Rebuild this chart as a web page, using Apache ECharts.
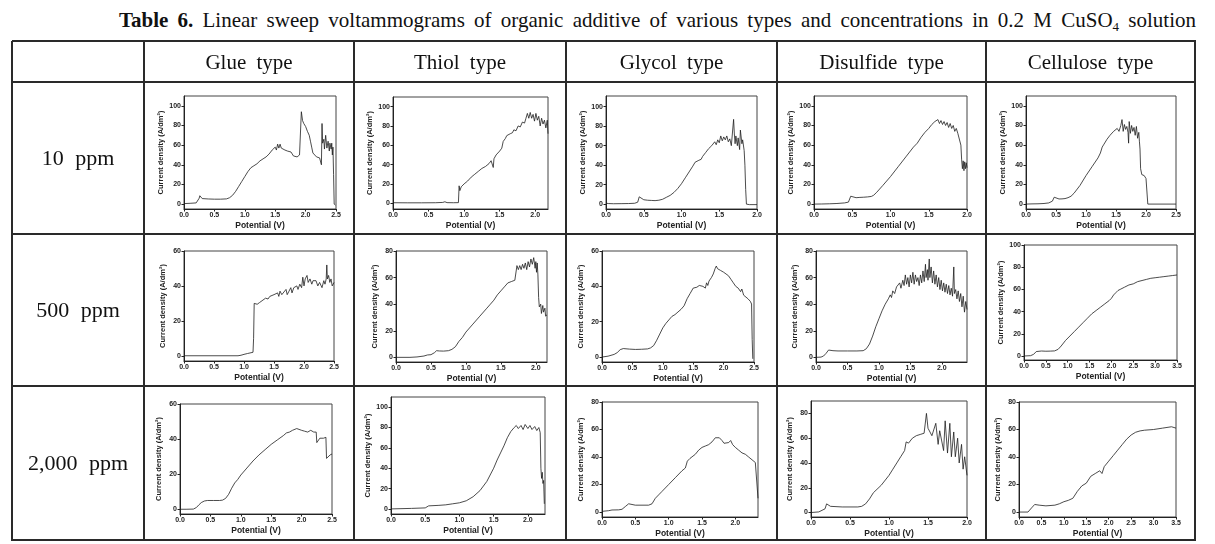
<!DOCTYPE html>
<html><head><meta charset="utf-8">
<script src="https://cdn.jsdelivr.net/npm/echarts@6/dist/echarts.min.js"></script>
<style>
html,body{margin:0;padding:0;background:#fff;}
#wrap{position:relative;width:1215px;height:544px;overflow:hidden;font-family:"Liberation Serif","Times New Roman",serif;color:#111;}
#chart{position:absolute;left:0;top:0;width:1215px;height:544px;}
.ln{position:absolute;background:#2a2a2a;}
.txt{position:absolute;white-space:nowrap;text-align:center;}
#title{position:absolute;right:19px;top:8px;font-size:21px;white-space:nowrap;word-spacing:4px;}
#title sub{font-size:13px;vertical-align:-4px;line-height:0;}
</style></head><body>
<div id="wrap">
<div id="title"><b>Table 6.</b> Linear sweep voltammograms of organic additive of various types and concentrations in 0.2 M CuSO<sub>4</sub> solution</div>
<div id="chart"></div>
</div>
<script>
// ---------- text ----------
const columnHeaders = ["Glue type", "Thiol type", "Glycol type", "Disulfide type", "Cellulose type"];
const rowLabels = ["10 ppm", "500 ppm", "2,000 ppm"];
const xName = "Potential (V)";
const yName = "Current density (A/dm\u00b2)";

// ---------- tick labels ----------
const xTicks25 = [0, 0.5, 1.0, 1.5, 2.0, 2.5];
const xTicks20 = [0, 0.5, 1.0, 1.5, 2.0];
const xTicks35 = [0, 0.5, 1.0, 1.5, 2.0, 2.5, 3.0, 3.5];
const yTicks100 = [0, 20, 40, 60, 80, 100];
const yTicks80 = [0, 20, 40, 60, 80];
const yTicks60 = [0, 20, 40, 60];

// ---------- series values [potential V, current density A/dm2] ----------
// row 1 : 10 ppm
const glue10 = [[0,0.5],[0.1,0.8],[0.2,1.2],[0.23,2],[0.25,6],[0.26,8.5],[0.28,6.5],[0.3,5.6],[0.4,5.2],[0.5,5],[0.6,5],[0.7,5.3],[0.75,6.5],[0.8,9],[0.85,13],[0.9,18],[0.95,23],[1.0,28],[1.05,33],[1.1,37],[1.15,39],[1.2,41],[1.25,44],[1.3,46],[1.35,48],[1.38,47],[1.4,51],[1.43,53],[1.45,55],[1.47,53],[1.5,58],[1.52,55],[1.54,61],[1.56,57],[1.58,61],[1.6,57],[1.63,59],[1.66,55],[1.7,54],[1.73,52],[1.76,53],[1.8,49],[1.83,51],[1.86,48],[1.9,50],[1.92,48],[1.93,94],[1.95,85],[1.97,82],[2.0,79],[2.03,74],[2.06,70],[2.08,64],[2.1,58],[2.12,52],[2.15,50],[2.18,48],[2.2,49],[2.23,47],[2.25,45],[2.26,40],[2.27,82],[2.28,62],[2.3,66],[2.31,56],[2.33,70],[2.35,57],[2.37,64],[2.39,54],[2.4,62],[2.42,56],[2.43,62],[2.44,50],[2.45,58],[2.46,30],[2.47,0],[2.49,-1]];
const thiol10 = [[0,0.5],[0.2,0.4],[0.4,0.4],[0.6,0.5],[0.7,0.8],[0.73,1.5],[0.76,0.6],[0.85,0.5],[0.92,0.6],[0.93,18],[0.94,13],[0.96,17],[1.0,20],[1.05,23],[1.1,27],[1.15,30],[1.2,33],[1.25,36],[1.3,38],[1.35,41],[1.38,44],[1.4,46],[1.41,37],[1.42,46],[1.45,50],[1.5,54],[1.53,57],[1.55,64],[1.58,67],[1.6,70],[1.65,72],[1.68,73],[1.7,76],[1.73,75],[1.76,80],[1.79,79],[1.82,84],[1.85,83],[1.87,88],[1.89,93],[1.91,88],[1.93,94],[1.95,88],[1.97,92],[1.99,85],[2.01,93],[2.03,86],[2.05,90],[2.07,80],[2.09,88],[2.11,82],[2.13,86],[2.15,78],[2.17,86],[2.18,72]];
const glycol10 = [[0,1],[0.03,0.6],[0.1,0.4],[0.2,0.5],[0.3,0.6],[0.38,0.9],[0.42,2],[0.44,7.5],[0.46,6],[0.5,4.5],[0.55,4],[0.6,3.8],[0.65,3.6],[0.7,4],[0.75,5],[0.8,7],[0.85,9],[0.9,12],[0.95,16],[1.0,21],[1.05,27],[1.1,33],[1.15,39],[1.18,43],[1.2,42],[1.23,45],[1.26,46],[1.28,49],[1.3,50],[1.32,53],[1.34,51],[1.36,57],[1.38,55],[1.4,60],[1.42,58],[1.44,64],[1.46,61],[1.48,66],[1.5,63],[1.52,70],[1.54,65],[1.56,69],[1.58,66],[1.6,70],[1.62,64],[1.64,67],[1.66,60],[1.68,58],[1.69,87],[1.7,72],[1.71,62],[1.72,70],[1.74,60],[1.75,68],[1.77,56],[1.78,76],[1.8,62],[1.81,66],[1.83,55],[1.84,40],[1.85,15],[1.86,0],[1.9,-0.5],[2.0,-0.5]];
const disulfide10 = [[0,0],[0.1,0.1],[0.2,0.3],[0.3,0.6],[0.4,1.2],[0.45,2],[0.47,3.5],[0.48,8],[0.5,7],[0.55,6.5],[0.6,6.8],[0.65,7],[0.7,7.3],[0.75,7.8],[0.78,9],[0.82,12],[0.9,19],[1.0,28],[1.1,38],[1.2,48],[1.3,58],[1.35,62],[1.4,68],[1.45,73],[1.5,77],[1.52,79],[1.54,81],[1.56,80],[1.58,84],[1.6,82],[1.62,86],[1.64,82],[1.66,85],[1.68,81],[1.7,84],[1.72,80],[1.74,83],[1.76,78],[1.78,82],[1.8,77],[1.82,80],[1.84,74],[1.86,77],[1.88,72],[1.9,70],[1.92,60],[1.93,45],[1.94,36],[1.95,44],[1.96,34],[1.97,43],[1.98,36],[1.99,42],[2.0,37]];
const cellulose10 = [[0,0],[0.1,0.2],[0.2,0.3],[0.3,0.6],[0.38,1.2],[0.44,3],[0.47,7],[0.5,5.5],[0.55,5.2],[0.6,5.3],[0.65,5.6],[0.7,6.5],[0.75,8],[0.8,11],[0.9,19],[1.0,29],[1.1,38],[1.2,47],[1.24,52],[1.26,54],[1.27,58],[1.3,61],[1.35,66],[1.4,70],[1.43,69],[1.46,74],[1.49,72],[1.52,77],[1.55,74],[1.58,80],[1.6,86],[1.62,74],[1.64,81],[1.66,76],[1.68,79],[1.7,73],[1.71,62],[1.72,84],[1.74,72],[1.76,80],[1.78,74],[1.8,78],[1.82,70],[1.84,79],[1.86,67],[1.88,73],[1.89,64],[1.9,56],[1.91,36],[1.93,30],[1.95,28],[1.97,29],[2.0,26],[2.02,24],[2.03,0],[2.1,0],[2.5,0]];
// row 2 : 500 ppm
const glue500 = [[0,0],[0.5,0],[0.9,0],[0.95,0.3],[1.0,0.8],[1.03,1.5],[1.06,1.3],[1.1,1.6],[1.15,2],[1.16,10],[1.17,30],[1.19,29],[1.22,29.5],[1.26,30.5],[1.3,31.5],[1.33,32],[1.36,33],[1.4,32.5],[1.43,34],[1.46,33.5],[1.5,35],[1.53,34],[1.56,36],[1.58,34],[1.6,37],[1.63,35],[1.66,36],[1.7,38],[1.72,35],[1.75,37],[1.78,39],[1.8,36],[1.83,39],[1.86,38],[1.88,40],[1.9,38],[1.93,41],[1.96,39],[1.98,45],[2.0,40],[2.02,44],[2.05,46],[2.07,42],[2.1,44],[2.13,41],[2.15,43],[2.18,42],[2.2,43],[2.23,40],[2.26,42],[2.3,39],[2.33,43],[2.35,41],[2.37,44],[2.38,52],[2.39,44],[2.41,46],[2.43,42],[2.45,44],[2.47,40],[2.5,42]];
const thiol500 = [[0,0],[0.2,0],[0.3,0.3],[0.4,1],[0.45,1.8],[0.5,2],[0.55,3.5],[0.58,5],[0.62,4.8],[0.68,4.7],[0.75,5],[0.8,6],[0.85,8],[0.9,12],[0.95,15],[1.0,19],[1.1,25],[1.2,31],[1.3,37],[1.35,40],[1.4,43],[1.45,47],[1.5,50],[1.55,53],[1.6,56],[1.65,57],[1.7,58],[1.72,58],[1.73,69],[1.75,66],[1.77,69],[1.79,66],[1.81,70],[1.83,67],[1.85,71],[1.87,66],[1.89,72],[1.91,68],[1.93,74],[1.95,70],[1.97,75],[1.99,67],[2.0,72],[2.01,64],[2.02,71],[2.03,62],[2.04,45],[2.05,38],[2.07,40],[2.08,33],[2.1,39],[2.11,34],[2.13,37],[2.14,31],[2.16,32]];
const glycol500 = [[0,0],[0.1,0.5],[0.2,1.5],[0.25,2.5],[0.3,4.2],[0.35,4.8],[0.45,4.5],[0.55,4.3],[0.65,4.4],[0.75,4.6],[0.8,5.2],[0.85,6.5],[0.9,9.5],[0.95,13],[1.0,16.5],[1.05,19],[1.1,21],[1.15,23],[1.2,24],[1.25,25.5],[1.3,27],[1.35,29],[1.4,33],[1.45,36],[1.5,39],[1.53,40],[1.56,39.5],[1.6,40.5],[1.63,39.5],[1.66,40],[1.7,39],[1.72,42],[1.74,40.5],[1.76,43],[1.8,45],[1.83,47],[1.86,50],[1.88,51.5],[1.9,50],[1.92,51],[1.95,49],[1.98,48],[2.0,48],[2.04,47],[2.08,46],[2.12,44],[2.16,42],[2.2,40],[2.24,39],[2.28,37],[2.3,38.5],[2.33,35],[2.36,36],[2.4,33],[2.44,31.5],[2.46,30],[2.47,10],[2.48,-1]];
const disulfide500 = [[0,0],[0.08,0.2],[0.12,1],[0.16,3],[0.2,5.5],[0.23,6],[0.27,5],[0.35,4.8],[0.5,4.8],[0.65,4.8],[0.75,5],[0.8,6.5],[0.85,10],[0.9,16],[0.95,23],[1.0,29],[1.05,35],[1.1,40],[1.15,44],[1.18,47],[1.2,45],[1.22,50],[1.25,48],[1.28,53],[1.3,52],[1.33,56],[1.35,52],[1.38,58],[1.4,54],[1.42,62],[1.44,55],[1.46,60],[1.48,53],[1.5,62],[1.52,56],[1.54,64],[1.56,55],[1.58,62],[1.6,57],[1.62,60],[1.64,54],[1.66,62],[1.68,56],[1.7,65],[1.72,57],[1.74,70],[1.75,60],[1.77,66],[1.78,58],[1.8,74],[1.81,60],[1.83,68],[1.85,56],[1.87,65],[1.89,55],[1.91,62],[1.93,53],[1.95,60],[1.97,51],[1.99,58],[2.01,50],[2.03,56],[2.05,49],[2.07,55],[2.09,48],[2.11,54],[2.13,47],[2.15,52],[2.17,46],[2.19,68],[2.2,48],[2.22,51],[2.24,44],[2.26,50],[2.28,42],[2.3,48],[2.32,38],[2.34,46],[2.36,34],[2.38,42],[2.4,36]];
const cellulose500 = [[0,0],[0.15,0.3],[0.22,1.5],[0.28,4],[0.32,5],[0.4,4.5],[0.5,4.3],[0.6,4.4],[0.7,4.6],[0.78,6],[0.85,9],[0.95,14],[1.05,18],[1.15,22],[1.25,26],[1.35,30],[1.45,34],[1.55,38],[1.65,41],[1.75,44],[1.85,47],[1.95,50],[2.0,52],[2.05,55],[2.1,57],[2.15,59],[2.2,60],[2.3,62],[2.4,64],[2.5,65],[2.6,67],[2.7,68],[2.8,69],[2.9,70],[3.0,70.5],[3.1,71],[3.2,71.5],[3.3,72],[3.4,72.5],[3.5,73]];
// row 3 : 2,000 ppm
const glue2000 = [[0,0],[0.1,0],[0.22,0.1],[0.27,1],[0.31,2.5],[0.35,3.8],[0.4,4.7],[0.45,5],[0.55,5],[0.65,5],[0.7,5.2],[0.75,6.2],[0.8,8.5],[0.85,12],[0.9,15],[0.95,17],[1.0,19.5],[1.1,23.5],[1.2,27.5],[1.3,31],[1.4,34],[1.5,37],[1.6,39.5],[1.7,42],[1.75,43.5],[1.8,44],[1.85,45],[1.88,44.5],[1.92,46],[1.95,45.5],[2.0,45],[2.05,44.5],[2.1,44],[2.15,45],[2.2,44],[2.24,44],[2.25,38],[2.28,39],[2.3,40.5],[2.33,39.5],[2.36,40.5],[2.4,41],[2.41,29],[2.44,30],[2.47,31],[2.5,31.5]];
const thiol2000 = [[0,0],[0.3,0.5],[0.5,1],[0.55,3],[0.7,3.5],[0.8,4],[0.9,5],[1.0,6],[1.1,8],[1.2,12],[1.3,18],[1.4,27],[1.5,40],[1.55,48],[1.6,55],[1.65,62],[1.7,70],[1.75,76],[1.8,80],[1.83,82],[1.86,79],[1.9,82],[1.93,78],[1.96,83],[2.0,79],[2.03,82],[2.06,78],[2.1,81],[2.13,77],[2.16,80],[2.18,75],[2.19,40],[2.2,30],[2.21,36],[2.22,25],[2.23,28],[2.24,5]];
const glycol2000 = [[0,0.5],[0.1,1],[0.15,1.5],[0.25,1.6],[0.3,2],[0.35,4],[0.4,6],[0.45,5.5],[0.5,5],[0.6,5],[0.7,5],[0.75,6],[0.8,10],[0.85,12.5],[0.9,15],[1.0,20],[1.1,25],[1.2,30],[1.25,32],[1.28,37],[1.32,39],[1.4,42],[1.45,45],[1.5,47],[1.55,48],[1.6,49],[1.65,51],[1.7,54],[1.73,55],[1.76,54],[1.8,52],[1.83,50],[1.86,51],[1.9,50.5],[1.93,52],[1.96,49],[2.0,47],[2.05,45],[2.1,43],[2.15,42],[2.2,40],[2.25,38],[2.3,36],[2.33,35],[2.34,10]];
const disulfide2000 = [[0,0],[0.1,0.5],[0.18,3],[0.2,7],[0.25,5],[0.4,4.5],[0.6,4.5],[0.65,5],[0.7,7],[0.75,11],[0.8,16],[0.9,22],[1.0,30],[1.05,35],[1.1,40],[1.15,45],[1.2,50],[1.22,57],[1.25,56],[1.3,60],[1.35,62],[1.4,63],[1.45,64],[1.48,80],[1.5,68],[1.55,62],[1.6,72],[1.63,55],[1.65,66],[1.7,50],[1.72,74],[1.75,48],[1.78,72],[1.8,45],[1.83,65],[1.85,45],[1.88,60],[1.9,40],[1.93,55],[1.95,35],[1.97,45],[2.0,30]];
const cellulose2000 = [[0,0],[0.2,0],[0.28,3],[0.35,5.5],[0.45,5],[0.6,4.5],[0.8,5],[0.9,6],[1.0,7.5],[1.1,8.5],[1.2,10],[1.3,15],[1.4,19],[1.5,21],[1.6,26],[1.7,28],[1.8,30],[1.85,28],[1.9,33],[2.0,37],[2.1,41],[2.2,45],[2.3,49],[2.4,53],[2.5,56],[2.6,58],[2.7,59],[2.8,59.5],[3.0,60],[3.2,61],[3.4,62],[3.5,61]];

const seriesData = [glue10, thiol10, glycol10, disulfide10, cellulose10,
                    glue500, thiol500, glycol500, disulfide500, cellulose500,
                    glue2000, thiol2000, glycol2000, disulfide2000, cellulose2000];
// axis ranges [xMin,xMax,yMin,yMax] and tick sets
const axisRanges = [
  [0,2.5,-5,110],[0,2.18,-6,110],[0,2.0,-5,111],[0,2.0,-5,110],[0,2.5,-5,110],
  [0,2.5,-3,60],[0,2.16,-3.5,80],[0,2.5,-2.8,60],[0,2.4,-3.5,80],[0,3.5,-3.6,100],
  [0,2.5,-2.7,60],[0,2.25,-5,110],[0,2.34,-3.6,80],[0,2.0,-3.6,90],[0,3.5,-3.6,80]
];
const xTickSets = [xTicks25,xTicks20,xTicks20,xTicks20,xTicks25,
                   xTicks25,xTicks20,xTicks25,xTicks20,xTicks35,
                   xTicks25,xTicks20,xTicks20,xTicks20,xTicks35];
const yTickSets = [yTicks100,yTicks100,yTicks100,yTicks100,yTicks100,
                   yTicks60,yTicks80,yTicks60,yTicks80,yTicks100,
                   yTicks60,yTicks100,yTicks80,yTicks80,yTicks80];

// ---------- layout (page pixels) ----------
const colX = [12,144,354,566,777,986,1195];
const rowY = [41,82,234,386,540];
const plotBoxes = [ // [left, top, right, bottom]
  [184,96,336,209],[393,97,548,209],[606,96,757,209],[814,96,967,209],[1026,96,1176,209],
  [184,251,334,361],[396,251,547,362],[602,251,754,362],[816,251,967,362],[1024,245,1177,360],
  [180,404,332,514],[391,397,545,514],[602,402,758,517],[811,401,967,517],[1019,402,1176,517]
];

const wrap = document.getElementById('wrap');
function addLine(x,y,w,h){const d=document.createElement('div');d.className='ln';d.style.cssText=`left:${x}px;top:${y}px;width:${w}px;height:${h}px`;wrap.insertBefore(d,document.getElementById('chart'));}
rowY.forEach(y=>addLine(colX[0]-0.5,y-0.75,colX[6]-colX[0]+1.5,1.5));
colX.forEach(x=>addLine(x-0.75,rowY[0]-0.5,1.5,rowY[4]-rowY[0]+1.2));
function addText(str,cx,cy,size,ws){const d=document.createElement('div');d.className='txt';d.textContent=str;d.style.fontSize=size+'px';d.style.wordSpacing=ws+'px';d.style.lineHeight='1';d.style.left=(cx-150)+'px';d.style.width='300px';d.style.top=(cy-size*0.5)+'px';wrap.appendChild(d);}
columnHeaders.forEach((t,i)=>addText(t,(colX[i+1]+colX[i+2])/2,(rowY[0]+rowY[1])/2+1,21,5));
rowLabels.forEach((t,i)=>addText(t,(colX[0]+colX[1])/2,(rowY[i+1]+rowY[i+2])/2,22,6));

const chart = echarts.init(document.getElementById('chart'), null, {renderer:'canvas'});
const grids=[],xAxes=[],yAxes=[],series=[];
const lab = {fontSize:7,fontWeight:'bold',color:'#222',fontFamily:'Liberation Sans, Arial, sans-serif'};
seriesData.forEach((d,i)=>{
  const b=plotBoxes[i], r=axisRanges[i];
  grids.push({left:b[0],top:b[1],width:b[2]-b[0],height:b[3]-b[1],show:true,borderColor:'#444',borderWidth:1,containLabel:false});
  xAxes.push({gridIndex:i,type:'value',min:r[0],max:r[1],
    axisLine:{show:true,onZero:false,lineStyle:{color:'#222',width:1}},
    axisTick:{show:true,inside:false,length:2.5,customValues:xTickSets[i],lineStyle:{color:'#222'}},
    axisLabel:Object.assign({customValues:xTickSets[i],margin:3,formatter:v=>Number(v).toFixed(1)},lab),
    splitLine:{show:false},
    name:xName,nameLocation:'middle',nameGap:12,
    nameTextStyle:{fontSize:8.5,fontWeight:'bold',color:'#222',fontFamily:'Liberation Sans, Arial, sans-serif'}});
  yAxes.push({gridIndex:i,type:'value',min:r[2],max:r[3],
    axisLine:{show:true,onZero:false,lineStyle:{color:'#222',width:1}},
    axisTick:{show:true,inside:false,length:2.5,customValues:yTickSets[i],lineStyle:{color:'#222'}},
    axisLabel:Object.assign({customValues:yTickSets[i],margin:3,formatter:v=>String(Math.round(v))},lab),
    splitLine:{show:false},
    name:yName,nameLocation:'middle',nameGap:17,
    nameTextStyle:{fontSize:7.5,fontWeight:'bold',color:'#222',fontFamily:'Liberation Sans, Arial, sans-serif'}});
  series.push({type:'line',xAxisIndex:i,yAxisIndex:i,data:d,showSymbol:false,symbol:'none',
    lineStyle:{color:'#1e1e1e',width:0.8},clip:true,silent:true});
});
chart.setOption({animation:false,backgroundColor:'transparent',grid:grids,xAxis:xAxes,yAxis:yAxes,series:series});
</script>
</body></html>
